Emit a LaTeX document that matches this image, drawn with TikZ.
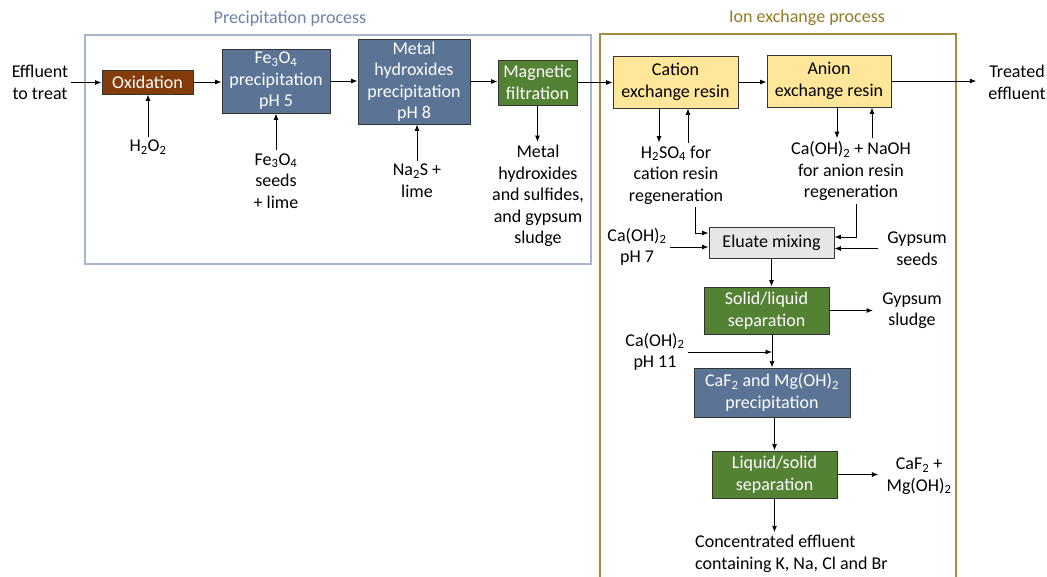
\documentclass[tikz,border=0pt]{standalone}
\usepackage{fontspec}
\setmainfont{Carlito}
\usetikzlibrary{arrows.meta}
\definecolor{boxblue}{HTML}{5B7394}
\definecolor{boxgreen}{HTML}{548235}
\definecolor{boxbrown}{HTML}{843C0C}
\definecolor{boxyellow}{HTML}{FFE699}
\definecolor{boxgray}{HTML}{E7E6E6}
\definecolor{precframe}{HTML}{A7B6CC}
\definecolor{prectitle}{HTML}{6B83AC}
\definecolor{ionframe}{HTML}{A38C3E}
\definecolor{iontitle}{HTML}{957A25}
\begin{document}
\begin{tikzpicture}[x=1pt,y=-1pt,
  every node/.style={font=\fontsize{18}{21.5}\selectfont, align=center, inner sep=3pt},
  unit/.style={draw=black!80, line width=0.9pt, inner sep=0pt},
  bluebox/.style={unit, fill=boxblue, text=white},
  greenbox/.style={unit, fill=boxgreen, text=white},
  brownbox/.style={unit, fill=boxbrown, text=white},
  yellowbox/.style={unit, fill=boxyellow, text=black},
  graybox/.style={unit, fill=boxgray, text=black},
  arr/.style={-{Latex[length=6.5pt,width=5pt]}, line width=0.9pt},
  frame/.style={line width=1.1pt}
]
\useasboundingbox (0,0) rectangle (1047,576);
\fill[white] (0,0) rectangle (1047,576);

% process frames and their titles
\draw[frame, draw=precframe] (85,35) rectangle (591,264);
\node[text=prectitle] (prect) at (290,19) {Precipitation process};
\draw[frame, draw=ionframe] (600,580) -- (600,34) -- (956,34) -- (956,580);
\node[text=iontitle] (iont) at (807,18) {Ion exchange process};

% precipitation line
\node (eff) at (40,82.5) {Effluent\\to treat};
\node[brownbox, minimum width=91, minimum height=24] (ox) at (147.5,82) {Oxidation};
\node[bluebox, minimum width=108, minimum height=64] (fe) at (276,81) {Fe\textsubscript{3}O\textsubscript{4}\\precipitation\\pH 5};
\node[bluebox, minimum width=112, minimum height=85] (mh) at (414,81.5) {Metal\\hydroxides\\precipitation\\pH 8};
\node[greenbox, minimum width=79, minimum height=45] (mf) at (537.5,82.5) {Magnetic\\filtration};

\node (h2o2) at (148,147) {H\textsubscript{2}O\textsubscript{2}};
\node (seeds) at (276,181) {Fe\textsubscript{3}O\textsubscript{4}\\seeds\\+ lime};
\node (na2s) at (417,180.5) {Na\textsubscript{2}S +\\lime};
\node (sludge) at (538,196) {Metal\\hydroxides\\and sulfides,\\and gypsum\\sludge};

% ion exchange line
\node[yellowbox, minimum width=125, minimum height=52] (cat) at (675.5,82) {Cation\\exchange resin};
\node[yellowbox, minimum width=124, minimum height=52] (an) at (829,81) {Anion\\exchange resin};
\node[inner sep=12pt] (te) at (1017,82.5) {Treated\\effluent};

\node (h2so4) at (676,175) {H\textsubscript{2}SO\textsubscript{4} for\\cation resin\\regeneration};
\node (naoh) at (851,171) {Ca(OH)\textsubscript{2} + NaOH\\for anion resin\\regeneration};

\node[graybox, minimum width=125, minimum height=31] (elu) at (771.5,242.5) {Eluate mixing};
\node (ph7) at (637,247) {Ca(OH)\textsubscript{2}\\pH 7};
\node[inner sep=9pt] (gs) at (917,248.5) {Gypsum\\seeds};

\node[greenbox, minimum width=125, minimum height=47] (sl) at (766.5,310.5) {Solid/liquid\\separation};
\node[inner sep=9pt] (gsl) at (912,310.5) {Gypsum\\sludge};
\node (ph11) at (655,352) {Ca(OH)\textsubscript{2}\\pH 11};

\node[bluebox, minimum width=156, minimum height=49] (caf) at (772,392.5) {CaF\textsubscript{2} and Mg(OH)\textsubscript{2}\\precipitation};
\node[greenbox, minimum width=125, minimum height=47] (ls) at (774.5,474.5) {Liquid/solid\\separation};
\node[inner sep=8pt] (cafo) at (919,476) {CaF\textsubscript{2} +\\Mg(OH)\textsubscript{2}};
\node[anchor=west, align=left] (conc) at (692,554) {Concentrated effluent\\containing K, Na, Cl and Br};

% main flow
\draw[arr] (eff.east) -- (eff.east -| ox.west);
\draw[arr] (ox.east) -- (ox.east -| fe.west);
\draw[arr] (fe.east) -- (fe.east -| mh.west);
\draw[arr] (mh.east) -- (mh.east -| mf.west);
\draw[arr] (mf.east) -- (mf.east -| cat.west);
\draw[arr] (cat.east) -- (cat.east -| an.west);
\draw[arr] (an.east) -- (an.east -| te.west);

% reagents and outputs of the precipitation steps
\draw[arr] (h2o2.north) -- (h2o2.north |- ox.south);
\draw[arr] (seeds.north) -- (seeds.north |- fe.south);
\draw[arr] (na2s.north) -- (na2s.north |- mh.south);
\draw[arr] (mf.south) -- (mf.south |- sludge.north);

% resin regeneration
\draw[arr] ([xshift=-16.5pt]cat.south) -- ([xshift=-16.5pt]cat.south |- h2so4.north);
\draw[arr] ([xshift=12.5pt]cat.south |- h2so4.north) -- ([xshift=12.5pt]cat.south);
\draw[arr] ([xshift=8pt]an.south) -- ([xshift=8pt]an.south |- naoh.north);
\draw[arr] ([xshift=43pt]an.south |- naoh.north) -- ([xshift=43pt]an.south);

% eluate treatment
\draw[arr] ([xshift=19pt]h2so4.south) |- ([yshift=9.5pt]elu.west);
\draw[arr] ([xshift=5pt]naoh.south) |- ([yshift=5.5pt]elu.east);
\draw[arr] (ph7.east) -- (ph7.east -| elu.west);
\draw[arr] (gs.west) -- (gs.west -| elu.east);
\draw[arr] (elu.south) -- (elu.south |- sl.north);
\draw[arr] (sl.east) -- (sl.east -| gsl.west);
\draw[arr] (caf.north |- sl.south) -- (caf.north);
\draw[arr] (ph11.east) -- (ph11.east -| caf.north);
\draw[arr] (ls.north |- caf.south) -- (ls.north);
\draw[arr] (ls.east) -- (ls.east -| cafo.west);
\draw[arr] (ls.south) -- (ls.south |- conc.north);
\end{tikzpicture}
\end{document}
